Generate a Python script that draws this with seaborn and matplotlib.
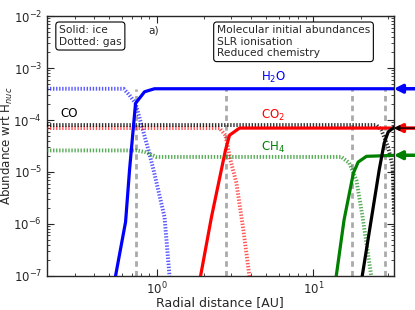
import matplotlib
matplotlib.use("Agg")
import matplotlib.pyplot as plt
import seaborn as sns

# snowline positions [AU]
snowlines = [0.74, 2.79, 17.7, 28.8]

# ice (solid) and gas (dotted) abundances
h2o_ice_r = [0.526, 0.548, 0.635, 0.673, 0.735, 0.839, 0.97, 34.0]
h2o_ice = [5e-8, 1e-7, 1.1e-6, 1.1e-5, 2.1e-4, 3.5e-4, 4e-4, 4e-4]
h2o_gas_r = [0.2, 0.617, 0.673, 0.735, 0.889, 0.957, 1.125, 1.21, 1.23]
h2o_gas = [4e-4, 4e-4, 3e-4, 2.1e-4, 2.6e-5, 1.1e-5, 1.35e-6, 1e-7, 5e-8]

co2_ice_r = [1.85, 1.91, 2.24, 2.75, 2.92, 3.38, 34.0]
co2_ice = [5e-8, 1e-7, 1.35e-6, 2.6e-5, 5.1e-5, 7e-5, 7e-5]
co2_gas_r = [0.2, 2.52, 2.75, 2.96, 3.23, 3.58, 3.91, 4.0]
co2_gas = [7e-5, 7e-5, 5.1e-5, 1.7e-5, 6.2e-6, 7.6e-7, 1e-7, 5e-8]

co_ice_r = [20.0, 20.5, 26.3, 28.3, 30.0, 32.8]
co_ice = [5e-8, 1e-7, 1.1e-5, 3.6e-5, 5.9e-5, 7.3e-5]
co_gas_r = [0.2, 25.2, 27.1, 30.0, 32.0, 32.8]
co_gas = [8e-5, 8e-5, 6.5e-5, 3e-5, 1.3e-5, 1.5e-6]

ch4_ice_r = [13.5, 14.0, 15.7, 18.0, 19.3, 21.8, 34.0]
ch4_ice = [5e-8, 1e-7, 1.2e-6, 9.5e-6, 1.55e-5, 2e-5, 2.1e-5]
ch4_gas_r = [0.2, 0.75, 0.85, 1.0, 15.1, 16.9, 18.8, 20.5, 22.1, 23.4, 24.0]
ch4_gas = [2.6e-5, 2.6e-5, 2.4e-5, 1.95e-5, 1.95e-5, 1.5e-5, 7e-6, 1.5e-6, 3.2e-7, 1e-7, 5e-8]

# final ice abundances marked by arrows on the right
arrow_vals = [4e-4, 7e-5, 7e-5, 2.1e-5]
arrow_cols = ["blue", "red", "black", "green"]

sns.set_style("ticks")
plt.rcParams["font.family"] = ["DejaVu Sans"]
plt.rcParams["lines.scale_dashes"] = False
plt.rcParams["xtick.direction"] = "in"
plt.rcParams["ytick.direction"] = "in"
plt.rcParams["xtick.top"] = True
plt.rcParams["ytick.right"] = True

fig = plt.figure(figsize=(4.15, 3.1), dpi=100)
ax = fig.add_axes([0.113, 0.110, 0.836, 0.838])

for x in snowlines:
    ax.vlines(x, 1e-7, 4e-4, colors="#aaaaaa", linestyles=(0, (4, 3)), lw=2, zorder=1)

dot = (0, (1, 1.2))
curves = [
    (h2o_gas_r, h2o_gas, "blue", dot, 0.65),
    (co2_gas_r, co2_gas, "red", dot, 0.65),
    (ch4_gas_r, ch4_gas, "green", dot, 0.65),
    (co_gas_r, co_gas, "black", dot, 0.8),
    (h2o_ice_r, h2o_ice, "blue", "-", 1),
    (co2_ice_r, co2_ice, "red", "-", 1),
    (ch4_ice_r, ch4_ice, "green", "-", 1),
    (co_ice_r, co_ice, "black", "-", 1),
]
for r, a, c, ls, al in curves:
    sns.lineplot(x=r, y=a, ax=ax, color=c, linestyle=ls, lw=2.3 if ls == "-" else 2.8,
                 alpha=al, estimator=None, sort=False, zorder=3)

ax.set_xscale("log")
ax.set_yscale("log")
ax.set_xlim(0.2, 32.6)
ax.set_ylim(1e-7, 1e-2)

for v, c in zip(arrow_vals, arrow_cols):
    thin = c == "black"
    ax.annotate("", xy=(1.0, v), xycoords=("axes fraction", "data"),
                xytext=(1.07, v), textcoords=("axes fraction", "data"),
                arrowprops=dict(arrowstyle="-|>", color=c, lw=1.0 if thin else 2.5,
                                mutation_scale=8 if thin else 12, shrinkA=0, shrinkB=0),
                annotation_clip=False, zorder=5)

ax.text(5.56, 6.7e-4, "H$_2$O", color="blue", fontsize=8.5, ha="center", va="center")
ax.text(5.56, 1.25e-4, "CO$_2$", color="red", fontsize=8.5, ha="center", va="center")
ax.text(5.56, 3.0e-5, "CH$_4$", color="green", fontsize=8.5, ha="center", va="center")
ax.text(0.279, 1.35e-4, "CO", color="black", fontsize=8.5, ha="center", va="center")
ax.text(0.308, 0.946, "a)", transform=ax.transAxes, fontsize=7.7, ha="center", va="center")

box = dict(boxstyle="round,pad=0.3", fc="white", ec="black", lw=0.8)
ax.text(0.035, 0.965, "Solid: ice\nDotted: gas", transform=ax.transAxes,
        fontsize=7.7, ha="left", va="top", bbox=box)
ax.text(0.49, 0.965, "Molecular initial abundances\nSLR ionisation\nReduced chemistry",
        transform=ax.transAxes, fontsize=7.7, ha="left", va="top", bbox=box)

ax.set_xlabel("Radial distance [AU]", fontsize=9)
ax.set_ylabel("Abundance wrt H$_{nuc}$", fontsize=8.5)
ax.xaxis.set_label_coords(0.5, -0.077)
ax.yaxis.set_label_coords(-0.092, 0.5)
ax.tick_params(which="major", length=5, width=0.8, labelsize=8.5)
ax.tick_params(which="minor", length=2.5, width=0.6)
for s in ax.spines.values():
    s.set_linewidth(1.0)

fig.savefig("out.png", dpi=100)
